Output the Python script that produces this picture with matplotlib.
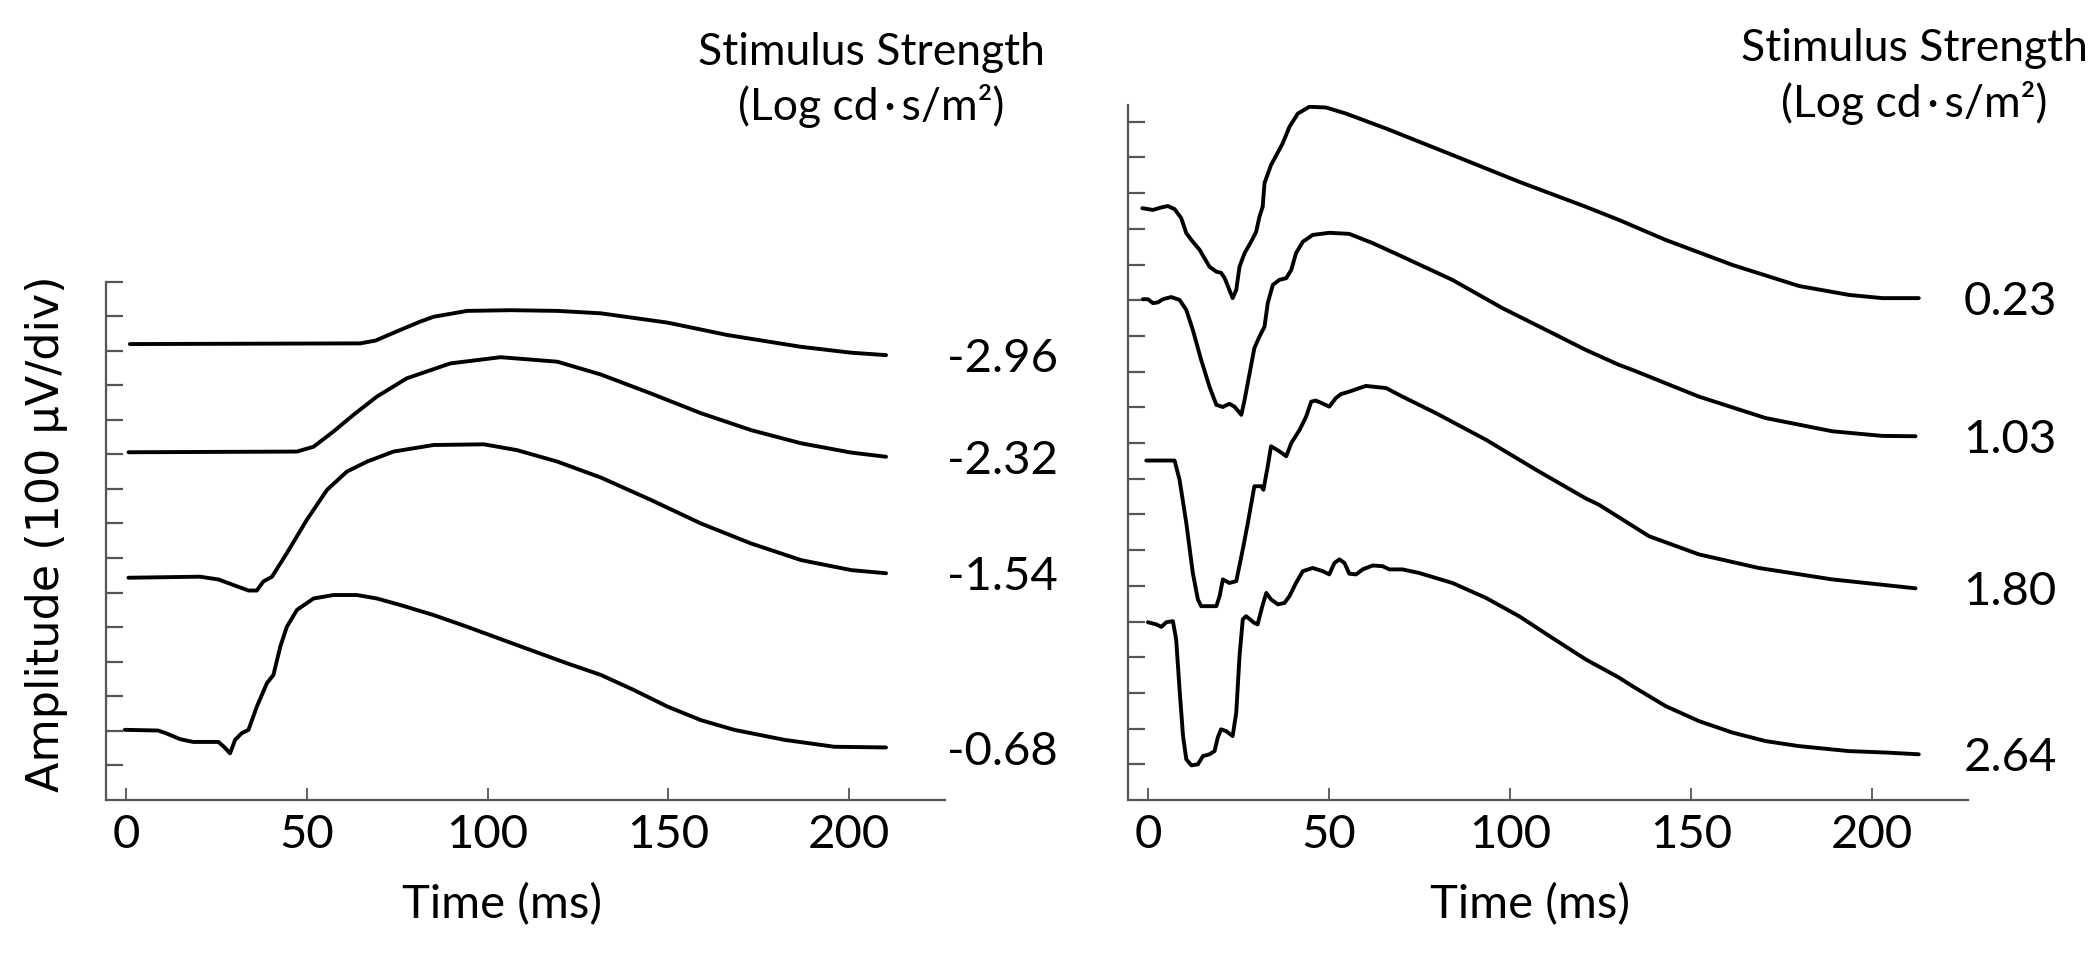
import matplotlib.pyplot as plt

# stimulus strengths (log cd·s/m²) shown beside each trace
left_labels = ['-2.96', '-2.32', '-1.54', '-0.68']
right_labels = ['0.23', '1.03', '1.80', '2.64']

# ERG traces: time (ms), amplitude (uV above the time axis)
t_n296 = [1.1, 64.8, 69.0, 75.9, 81.4, 85.1, 94.4, 106.4, 119.3, 131.3, 149.8, 166.4, 186.7, 200.6, 210.2]
uv_n296 = [1319, 1321, 1329, 1360, 1384, 1398, 1415, 1417, 1415, 1408, 1381, 1345, 1311, 1294, 1287]

t_n232 = [0.7, 47.3, 51.9, 57.4, 62.9, 69.4, 77.7, 89.7, 103.6, 119.3, 131.3, 145.2, 159.0, 172.9,
          186.7, 200.6, 210.2]
uv_n232 = [1006, 1008, 1022, 1066, 1114, 1167, 1220, 1263, 1281, 1268, 1231, 1176, 1119, 1070,
           1032, 1005, 993]

t_n154 = [0.7, 20.5, 25.6, 29.7, 33.9, 36.2, 38.0, 40.4, 44.5, 50.0, 55.6, 61.1, 66.7, 74.0, 85.1,
          99.0, 108.2, 119.3, 131.3, 145.2, 159.0, 172.9, 186.7, 200.6, 210.2]
uv_n154 = [643, 646, 638, 622, 606, 606, 632, 646, 714, 810, 897, 950, 979, 1008, 1027,
           1029, 1012, 979, 933, 868, 800, 742, 694, 665, 656]

t_n068 = [-0.3, 8.9, 11.1, 15.0, 18.6, 25.6, 27.1, 28.8, 30.2, 32.0, 33.9, 36.2, 39.0, 40.8, 42.7,
          44.5, 47.3, 51.9, 57.4, 63.9, 69.4, 75.9, 85.1, 94.4, 108.2, 122.1, 131.3, 140.5, 149.8,
          159.0, 168.2, 182.1, 195.9, 210.2]
uv_n068 = [203, 201, 193, 176, 168, 168, 154, 135, 174, 193, 203, 270, 338, 362, 444,
           501, 550, 583, 593, 593, 583, 564, 535, 501, 448, 395, 362, 318, 270,
           231, 203, 174, 154, 152]

t_p023 = [-1.55, 1.38, 3.7, 5.5, 7.4, 9.2, 10.6, 12.0, 14.3, 17.0, 18.9, 20.2, 21.2, 22.5, 23.4,
          24.4, 25.3, 26.7, 28.5, 29.9, 30.8, 31.7, 32.2, 34.0, 37.2, 39.1, 41.4, 44.6, 49.2, 54.7,
          65.8, 84.1, 102.5, 120.9, 130.1, 143.0, 161.4, 179.8, 193.6, 202.8, 212.9]
uv_p023 = [1658, 1653, 1660, 1664, 1655, 1630, 1588, 1569, 1541, 1494, 1480, 1477, 1462, 1429, 1406,
           1429, 1494, 1532, 1564, 1592, 1634, 1662, 1728, 1779, 1839, 1886, 1923, 1942, 1940, 1923,
           1881, 1807, 1732, 1662, 1625, 1569, 1499, 1440, 1415, 1406, 1406]

t_p103 = [-1.38, 0, 1.38, 2.76, 4.14, 6.45, 8.74, 10.6, 12.4, 14.7, 17.0, 18.9, 20.7, 22.5, 23.9,
          25.8, 26.7, 28.1, 29.4, 30.8, 32.2, 33.1, 34.5, 36.3, 38.2, 39.6, 40.9, 42.8, 45.5, 50.1,
          55.6, 62.1, 70.3, 84.1, 97.9, 111.7, 120.9, 130.1, 133.8, 152.2, 170.6, 189.0, 202.8, 212.0]
uv_p103 = [1403, 1403, 1392, 1394, 1403, 1409, 1401, 1373, 1317, 1233, 1158, 1107, 1101, 1110, 1102,
           1079, 1121, 1196, 1266, 1298, 1326, 1392, 1443, 1457, 1462, 1485, 1532, 1564, 1583, 1589,
           1586, 1560, 1522, 1457, 1378, 1308, 1261, 1219, 1205, 1130, 1070, 1033, 1020, 1019]

t_p180 = [-0.45, 7.37, 8.74, 10.6, 12.4, 13.8, 14.7, 18.9, 19.8, 20.7, 22.5, 24.4, 26.2, 27.6, 29.4,
          31.3, 31.9, 33.1, 34.0, 36.3, 38.2, 39.6, 41.9, 43.7, 45.1, 46.4, 50.1, 51.9, 53.3, 55.6,
          60.2, 65.8, 70.3, 79.5, 93.4, 107.2, 120.9, 124.6, 138.4, 152.2, 168.7, 189.0, 212.0]
uv_p180 = [951, 951, 897, 776, 636, 562, 543, 543, 571, 618, 608, 613, 702, 776, 879,
           879, 869, 935, 991, 977, 963, 1000, 1037, 1074, 1116, 1119, 1102, 1126, 1137, 1144,
           1160, 1154, 1130, 1084, 1009, 925, 845, 827, 739, 688, 650, 618, 593]

t_p264 = [0, 2.3, 3.7, 5.1, 6.9, 7.8, 8.74, 9.7, 10.6, 12.0, 13.8, 15.2, 17.0, 18.4, 19.3, 20.2,
          21.6, 23.4, 24.4, 25.3, 26.2, 27.1, 29.4, 30.3, 31.6, 32.7, 34.0, 35.9, 37.7, 39.1, 40.9,
          42.8, 45.5, 48.3, 50.1, 51.5, 52.9, 54.3, 55.6, 57.5, 59.3, 62.1, 64.8, 66.7, 70.3, 74.9,
          84.1, 93.4, 102.5, 111.7, 120.9, 130.1, 133.8, 143.0, 152.2, 161.4, 170.6, 179.8, 193.6,
          203.7, 212.9]
uv_p264 = [498, 492, 485, 498, 501, 450, 310, 179, 114, 97, 100, 123, 128, 137, 175, 198,
           193, 179, 245, 403, 506, 515, 496, 492, 543, 580, 562, 548, 552, 571, 608,
           641, 650, 641, 632, 664, 674, 664, 634, 632, 646, 657, 655, 646, 646, 636,
           608, 566, 515, 454, 394, 343, 319, 263, 221, 189, 165, 151, 137,
           133, 128]

left_traces = [(t_n296, uv_n296), (t_n232, uv_n232), (t_n154, uv_n154), (t_n068, uv_n068)]
right_traces = [(t_p023, uv_p023), (t_p103, uv_p103), (t_p180, uv_p180), (t_p264, uv_p264)]

FONT = ['Lato', 'DejaVu Sans']
AXC = '#555555'
W, H = 2100, 957

fig = plt.figure(figsize=(21, 9.57), dpi=100)
fig.patch.set_facecolor('white')

# axes placed so the spines sit where they do in the original (pixel boxes)
ax1 = fig.add_axes([106 / W, 157 / H, 839 / W, 518.5 / H])
ax2 = fig.add_axes([1128 / W, 157 / H, 840 / W, 695 / H])


def style(ax, ytop, label_x, traces, labels):
    for t, uv in traces:
        ax.plot(t, uv, color='black', lw=2.8, solid_joinstyle='round', solid_capstyle='round')
    for (t, uv), lab in zip(traces, labels):
        ax.annotate(lab, xy=(label_x, uv[-1]), xytext=(0, -3), textcoords='offset points',
                    ha='left', va='center', fontsize=34, family=FONT, annotation_clip=False)
    ax.set_xlim(-5.5, 226.5)
    ax.set_ylim(0, ytop)
    for s in ['top', 'right']:
        ax.spines[s].set_visible(False)
    for s in ['left', 'bottom']:
        ax.spines[s].set_color(AXC)
        ax.spines[s].set_linewidth(1.6)
    ax.set_xticks([0, 50, 100, 150, 200])
    ax.set_yticks(range(100, int(ytop) + 1, 100))
    ax.set_yticklabels([])
    ax.tick_params(axis='x', direction='in', length=9, width=1.3, color=AXC, pad=10,
                   labelsize=34)
    ax.tick_params(axis='y', direction='in', length=12, width=1.6, color=AXC)
    for lbl in ax.get_xticklabels():
        lbl.set_family(FONT)
    ax.set_xlabel('Time (ms)', fontsize=34, family=FONT)
    ax.xaxis.label.set_va('center')
    ax.patch.set_alpha(0)


style(ax1, 1500, 227, left_traces, left_labels)
style(ax2, 1947, 225.3, right_traces, right_labels)
ax1.xaxis.set_label_coords(0.472, -105 / 518.5)
ax2.xaxis.set_label_coords(0.479, -105 / 695)

fig.text(47 / W, 1 - 534 / H, 'Amplitude (100 µV/div)', rotation=90, ha='center', va='center',
         fontsize=32, family='DejaVu Sans')

for cx, b1, b2 in [(871, 65, 120), (1914, 61, 117)]:
    fig.text(cx / W, 1 - b1 / H, 'Stimulus Strength', ha='center', va='baseline',
             fontsize=32, family=FONT)
    fig.text(cx / W, 1 - b2 / H, '(Log cd\u2009\u2219\u2009s/m\u00b2)', ha='center',
             va='baseline', fontsize=32, family=FONT)

fig.savefig('out.png', dpi=100, facecolor='white')
